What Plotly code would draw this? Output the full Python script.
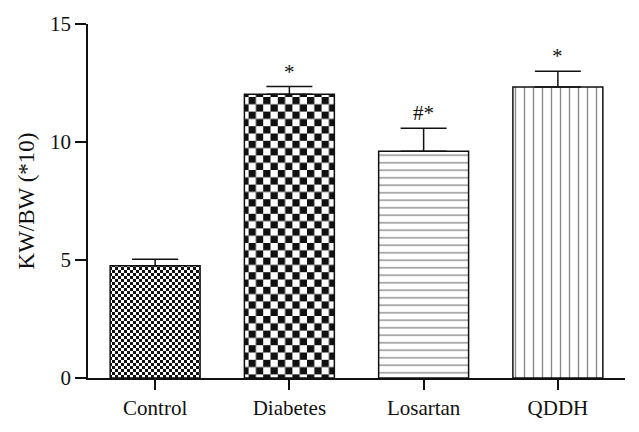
import plotly.graph_objects as go

categories = ["Control", "Diabetes", "Losartan", "QDDH"]
means = [4.76, 12.02, 9.61, 12.33]
sem = [0.27, 0.33, 0.97, 0.67]
marks = ["", "*", "#*", "*"]
y_ticks = [0, 5, 10, 15]

pattern_shapes = [".", ".", "-", "|"]
pattern_sizes = [6, 14.6, 7.5, 9]
pattern_solidity = [0.5, 0.5, 0.18, 0.15]

FONT = "Liberation Serif"
INK = "#111111"

fig = go.Figure()
fig.add_trace(go.Bar(
    x=categories,
    y=means,
    width=0.67,
    marker=dict(
        color="white",
        line=dict(color=INK, width=1.5),
        pattern=dict(
            shape=pattern_shapes,
            size=pattern_sizes,
            solidity=pattern_solidity,
            fgcolor=INK,
            bgcolor="white",
            fillmode="overlay",
        ),
    ),
    error_y=dict(
        type="data",
        symmetric=False,
        array=sem,
        arrayminus=[0] * len(sem),
        color=INK,
        thickness=1.5,
        width=23,
    ),
    hoverinfo="skip",
))

for c, m, s, t in zip(categories, means, sem, marks):
    if t:
        fig.add_annotation(
            x=c, y=m + s, text=t, showarrow=False,
            yanchor="bottom", yshift=1,
            font=dict(family=FONT, size=21, color=INK),
        )

fig.update_layout(
    width=639, height=432,
    margin=dict(l=88, r=14, t=20, b=54),
    paper_bgcolor="white", plot_bgcolor="white",
    showlegend=False,
    font=dict(family=FONT, size=21, color=INK),
)
fig.update_xaxes(
    range=[-0.5, 3.5],
    showline=True, linecolor=INK, linewidth=1.5,
    ticks="outside", ticklen=10, tickwidth=1.5, tickcolor=INK,
    showgrid=False, zeroline=False,
    tickfont=dict(family=FONT, size=21, color=INK),
)
fig.update_yaxes(
    range=[0, 15],
    tickvals=y_ticks,
    showline=True, linecolor=INK, linewidth=1.5,
    ticks="outside", ticklen=11, tickwidth=1.5, tickcolor=INK,
    showgrid=False, zeroline=False,
    tickfont=dict(family=FONT, size=21, color=INK),
    title=dict(text="KW/BW (*10)", font=dict(family=FONT, size=23, color=INK), standoff=9),
)

post = """
(function(){
  document.body.style.margin = '0';
  document.body.style.overflow = 'hidden';
  function fixPatterns(){
    var gd = document.getElementById('{plot_id}');
    if(!gd) return;
    var ns = 'http://www.w3.org/2000/svg';
    gd.querySelectorAll('pattern').forEach(function(p){
      var c = p.querySelector('circle');
      if(!c) return;
      var w = parseFloat(p.getAttribute('width'));
      c.parentNode.removeChild(c);
      [[0,0],[w/2,w/2]].forEach(function(o){
        var r = document.createElementNS(ns,'rect');
        r.setAttribute('x', o[0]); r.setAttribute('y', o[1]);
        r.setAttribute('width', w/2); r.setAttribute('height', w/2);
        r.setAttribute('fill', '#111111');
        p.appendChild(r);
      });
    });
  }
  fixPatterns();
  var gd = document.getElementById('{plot_id}');
  if(gd && gd.on){ gd.on('plotly_afterplot', fixPatterns); }
})();
"""

fig.write_html("out.html", post_script=post, config={"displayModeBar": False})
